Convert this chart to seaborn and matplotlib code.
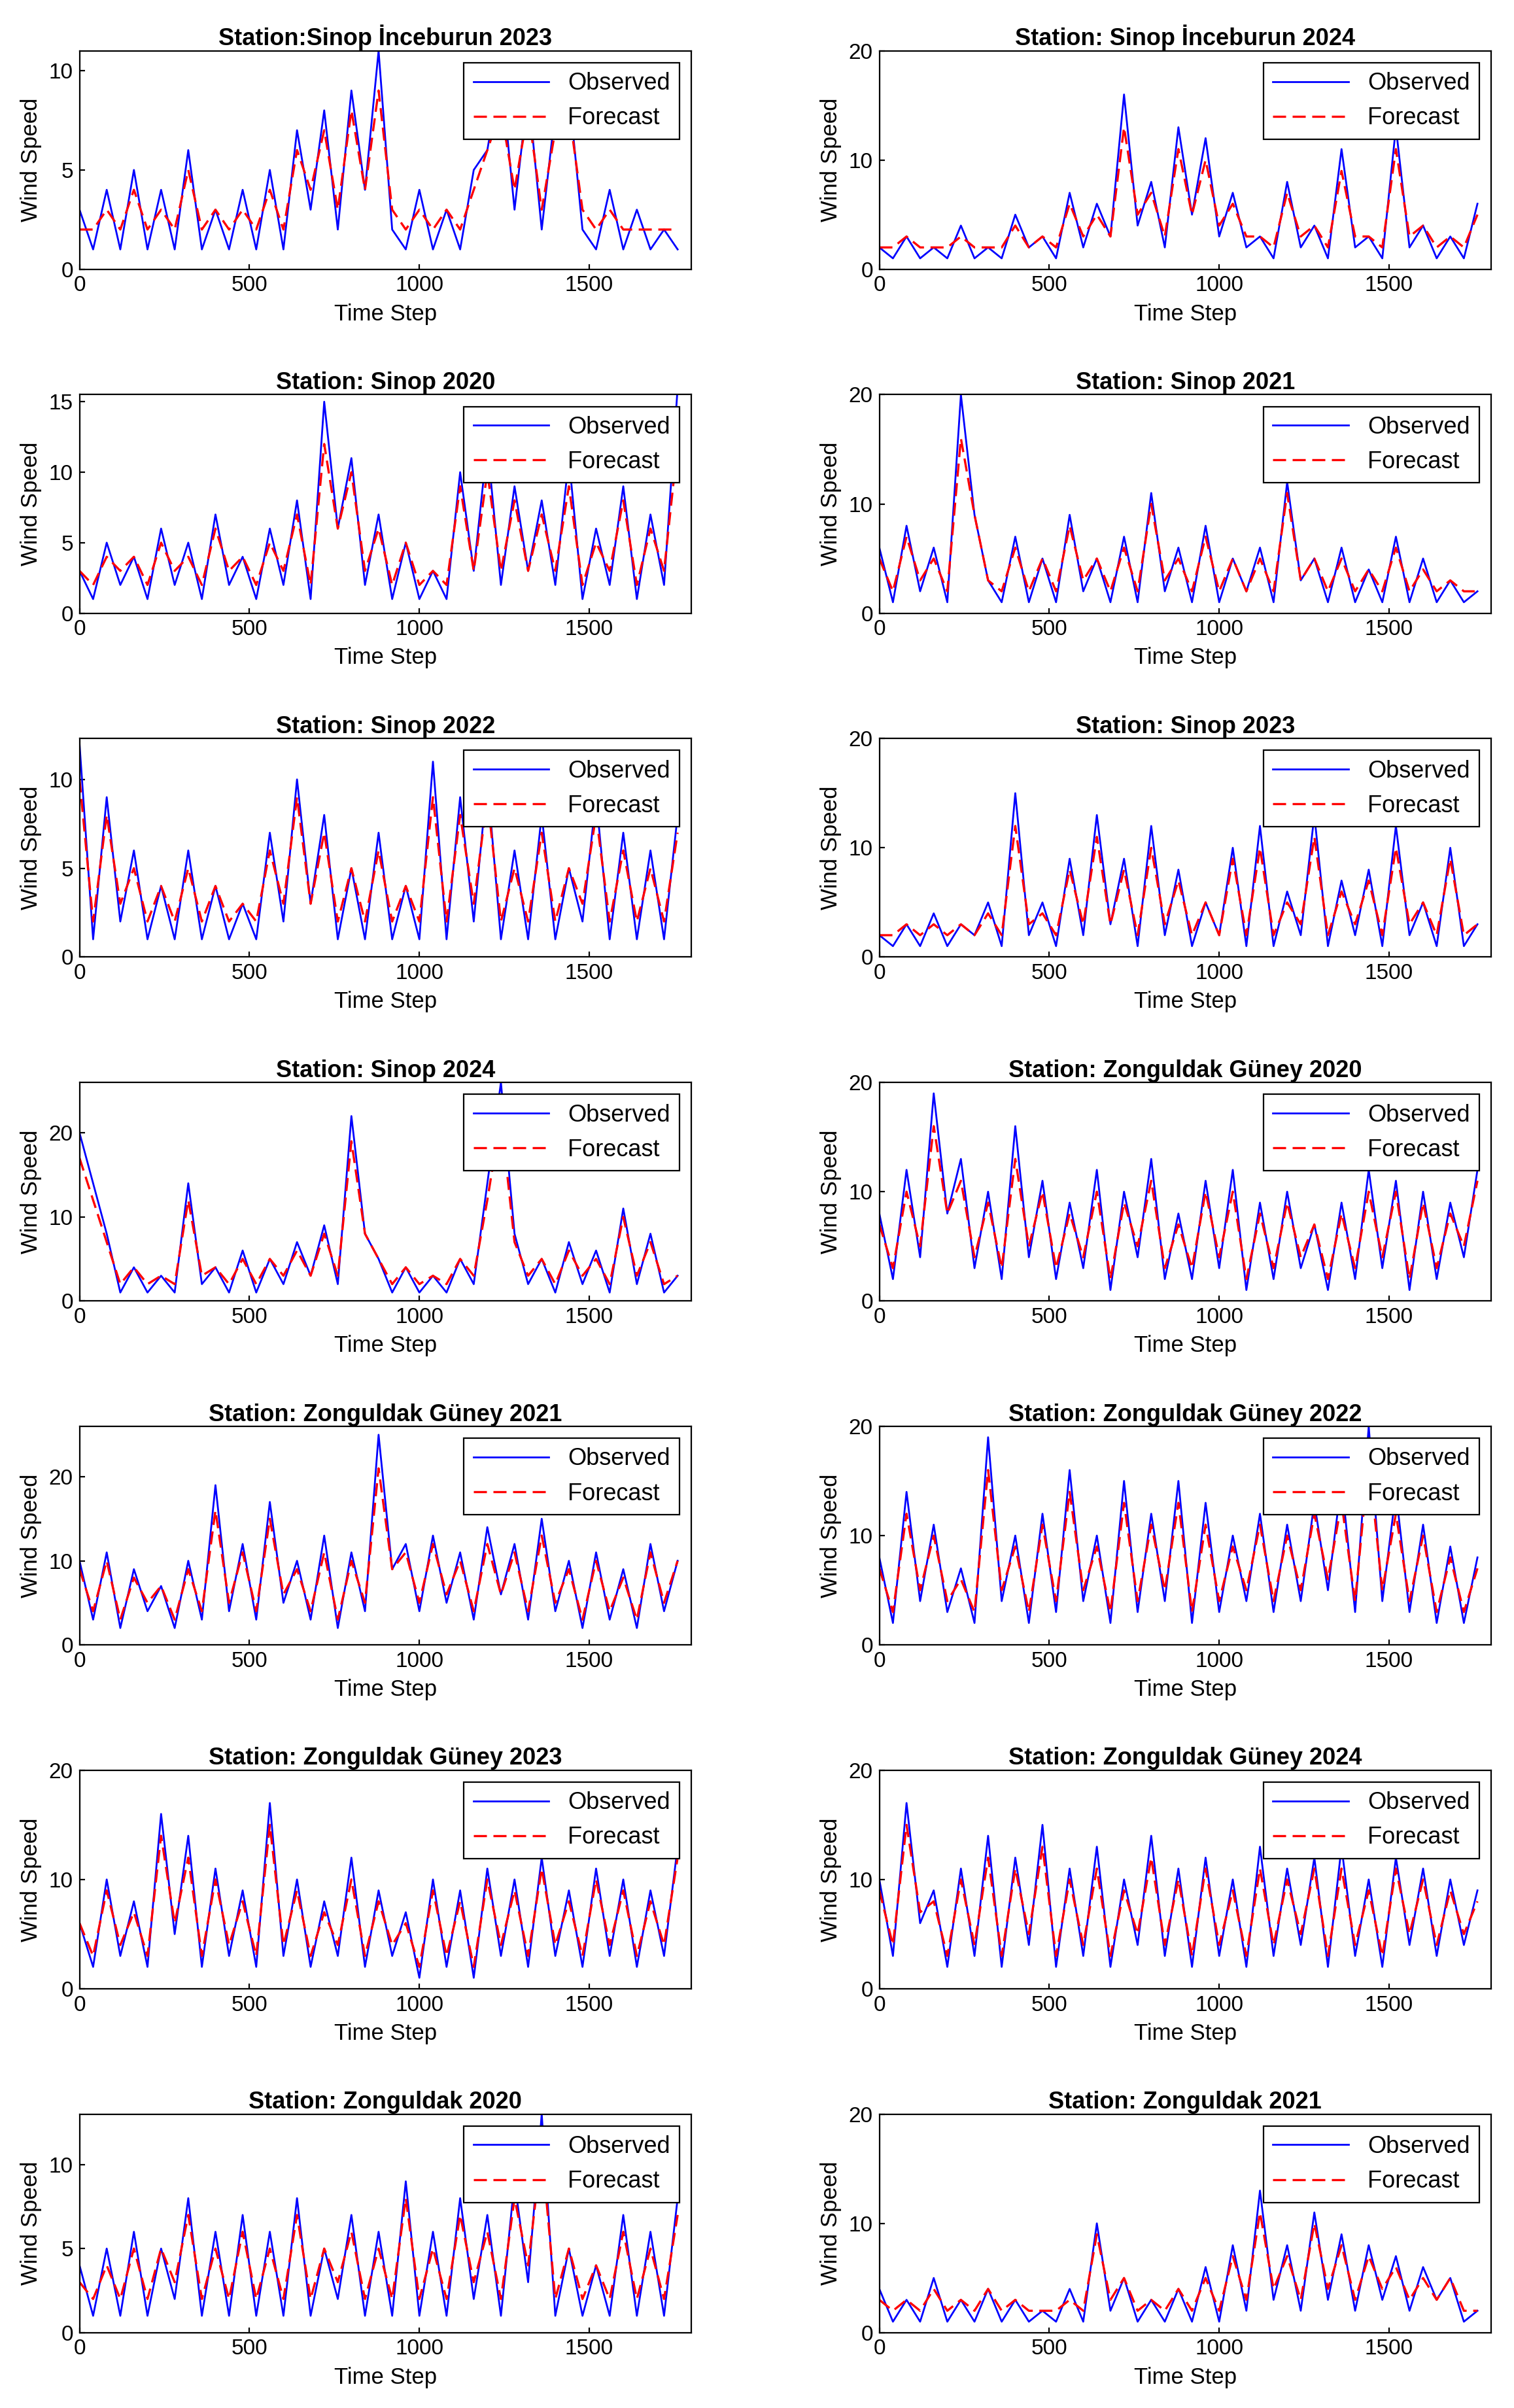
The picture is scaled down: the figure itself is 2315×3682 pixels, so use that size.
import numpy as np
import pandas as pd
import matplotlib
matplotlib.use("Agg")
import matplotlib.pyplot as plt
import seaborn as sns

plt.rcParams["font.family"] = "Liberation Sans"

titles = ["Station:Sinop İnceburun 2023", "Station: Sinop İnceburun 2024",
          "Station: Sinop 2020", "Station: Sinop 2021",
          "Station: Sinop 2022", "Station: Sinop 2023",
          "Station: Sinop 2024", "Station: Zonguldak Güney 2020",
          "Station: Zonguldak Güney 2021", "Station: Zonguldak Güney 2022",
          "Station: Zonguldak Güney 2023", "Station: Zonguldak Güney 2024",
          "Station: Zonguldak 2020", "Station: Zonguldak 2021"]
ymax = [11, 20, 15.5, 20, 12.3, 20, 26, 20, 26, 20, 20, 20, 13, 20]
yticks = [[0, 5, 10], [0, 10, 20], [0, 5, 10, 15], [0, 10, 20], [0, 5, 10], [0, 10, 20],
          [0, 10, 20], [0, 10, 20], [0, 10, 20], [0, 10, 20], [0, 10, 20], [0, 10, 20],
          [0, 5, 10], [0, 10, 20]]

observed = [
 [3,1,4,1,5,1,4,1,6,1,3,1,4,1,5,1,7,3,8,2,9,4,11,2,1,4,1,3,1,5,6,10,3,9,2,8,9,2,1,4,1,3,1,2,1],
 [2,1,3,1,2,1,4,1,2,1,5,2,3,1,7,2,6,3,16,4,8,2,13,5,12,3,7,2,3,1,8,2,4,1,11,2,3,1,13,2,4,1,3,1,6],
 [3,1,5,2,4,1,6,2,5,1,7,2,4,1,6,2,8,1,15,6,11,2,7,1,5,1,3,1,10,3,12,2,9,3,8,2,11,1,6,2,9,1,7,2,16],
 [6,1,8,2,6,1,20,9,3,1,7,1,5,1,9,2,5,1,7,1,11,2,6,1,8,1,5,2,6,1,12,3,5,1,6,1,4,1,7,1,5,1,3,1,2],
 [12,1,9,2,6,1,4,1,6,1,4,1,3,1,7,2,10,3,8,1,5,1,7,1,4,1,11,1,9,2,10,1,6,1,8,1,5,2,9,1,7,1,6,1,8],
 [2,1,3,1,4,1,3,2,5,1,15,2,5,1,9,2,13,3,9,1,12,2,8,1,5,2,10,1,12,1,6,2,13,1,7,2,8,1,12,2,5,1,10,1,3],
 [20,14,8,1,4,1,3,1,14,2,4,1,6,1,5,2,7,3,9,2,22,8,5,1,4,1,3,1,5,2,14,26,8,2,5,1,7,2,6,1,11,2,8,1,3],
 [8,2,12,4,19,8,13,3,10,2,16,4,11,2,9,3,12,1,10,4,13,2,8,2,11,3,12,1,9,2,10,3,7,1,9,2,12,3,11,1,10,2,9,4,12],
 [10,3,11,2,9,4,7,2,10,3,19,4,12,3,17,5,10,3,13,2,11,4,25,9,12,4,13,5,11,3,14,6,12,3,15,4,10,2,11,3,9,2,12,4,10],
 [8,2,14,4,11,3,7,2,19,4,10,2,12,3,16,4,10,2,15,3,12,4,15,2,13,3,10,4,12,3,11,4,13,5,15,3,20,4,14,3,11,2,9,2,8],
 [6,2,10,3,8,2,16,5,14,2,11,3,9,2,17,3,10,2,8,3,12,2,9,3,7,1,10,2,9,1,11,3,10,2,12,3,9,2,11,3,10,2,9,3,13],
 [10,3,17,6,9,2,11,3,14,2,12,4,15,2,11,3,13,2,10,4,14,3,11,2,12,3,10,2,13,3,11,4,12,2,13,3,10,2,12,4,11,3,10,4,9],
 [4,1,5,1,6,1,5,2,8,1,6,1,7,1,6,1,8,1,5,2,7,1,6,1,9,1,6,1,8,2,7,1,9,3,13,1,5,1,4,1,7,1,6,1,8],
 [4,1,3,1,5,1,3,1,4,1,3,1,2,1,4,1,10,2,5,1,3,1,4,1,6,1,8,2,13,3,8,2,11,3,9,2,8,3,7,2,6,3,5,1,2],
]
forecast = [
 [2,2,3,2,4,2,3,2,5,2,3,2,3,2,4,2,6,4,7,3,8,4,9,3,2,3,2,3,2,4,6,8,4,8,3,7,8,3,2,3,2,2,2,2,2],
 [2,2,3,2,2,2,3,2,2,2,4,2,3,2,6,3,5,3,13,5,7,3,11,5,10,4,6,3,3,2,7,3,4,2,9,3,3,2,11,3,4,2,3,2,5],
 [3,2,4,3,4,2,5,3,4,2,6,3,4,2,5,3,7,2,12,6,10,3,6,2,5,2,3,2,9,3,10,3,8,3,7,3,9,2,5,3,8,2,6,3,12],
 [5,2,7,3,5,2,16,9,3,2,6,2,5,2,8,3,5,2,6,2,10,3,5,2,7,2,5,2,5,2,11,3,5,2,5,2,4,2,6,2,4,2,3,2,2],
 [10,2,8,3,5,2,4,2,5,2,4,2,3,2,6,3,9,3,7,2,5,2,6,2,4,2,9,2,8,3,9,2,5,2,7,2,5,3,8,2,6,2,5,2,7],
 [2,2,3,2,3,2,3,2,4,2,12,3,4,2,8,3,11,3,8,2,10,3,7,2,5,2,9,2,10,2,5,3,11,2,6,3,7,2,10,3,5,2,9,2,3],
 [17,12,7,2,4,2,3,2,12,3,4,2,5,2,5,3,6,3,8,3,19,8,5,2,4,2,3,2,5,3,12,22,7,3,5,2,6,3,5,2,10,3,7,2,3],
 [7,3,10,5,16,8,11,4,9,3,13,5,10,3,8,4,10,2,9,5,11,3,7,3,10,4,10,2,8,3,9,4,7,2,8,3,10,4,10,2,9,3,8,5,11],
 [9,4,10,3,8,5,7,3,9,4,16,5,11,4,15,6,9,4,11,3,10,5,21,9,11,5,12,6,10,4,12,6,11,4,13,5,9,3,10,4,8,3,11,5,10],
 [7,3,12,5,10,4,6,3,16,5,9,3,11,4,14,5,9,3,13,4,11,5,13,3,11,4,9,5,11,4,10,5,12,6,13,4,17,5,12,4,10,3,8,3,7],
 [6,3,9,4,7,3,14,6,12,3,10,4,8,3,15,4,9,3,7,4,10,3,8,4,6,2,9,3,8,2,10,4,9,3,11,4,8,3,10,4,9,3,8,4,12],
 [9,4,15,7,8,3,10,4,12,3,11,5,13,3,10,4,11,3,9,5,12,4,10,3,11,4,9,3,11,4,10,5,11,3,11,4,9,3,11,5,10,4,9,5,8],
 [3,2,4,2,5,2,5,3,7,2,5,2,6,2,5,2,7,2,5,3,6,2,5,2,8,2,5,2,7,3,6,2,8,4,11,2,5,2,4,2,6,2,5,2,7],
 [3,2,3,2,4,2,3,2,4,2,3,2,2,2,3,2,9,3,5,2,3,2,4,2,5,2,7,3,11,4,7,3,10,4,8,3,7,4,6,3,5,3,5,2,2],
]

fig = plt.figure(figsize=(11.575, 18.41), dpi=200)
W, H = 990.0, 1565.0
for i in range(14):
    r, c = divmod(i, 2)
    left = 52 / W if c == 0 else 575 / W
    top = 33 + r * 223.5
    ax = fig.add_axes([left, 1 - (top + 142) / H, 400 / W, 142 / H])
    x = np.linspace(0, 1760, len(observed[i]))
    df = pd.DataFrame({"t": x, "obs": observed[i], "fc": forecast[i]})
    sns.lineplot(data=df, x="t", y="obs", ax=ax, color="#0000ff", lw=1.0, label="Observed")
    sns.lineplot(data=df, x="t", y="fc", ax=ax, color="#ff0000", lw=1.2, ls=(0, (6, 3)), label="Forecast")
    ax.set_xlim(0, 1800)
    ax.set_ylim(0, ymax[i])
    ax.set_xticks([0, 500, 1000, 1500])
    ax.set_yticks(yticks[i])
    ax.tick_params(labelsize=12, direction="in", length=3)
    ax.set_xlabel("Time Step", fontsize=12.5)
    ax.set_ylabel("Wind Speed", fontsize=12.5)
    ax.set_title(titles[i], fontsize=13, fontweight="bold", pad=3)
    leg = ax.legend(loc="upper right", fontsize=13, frameon=True, fancybox=False,
                    edgecolor="black", framealpha=1, handlelength=3.2, borderaxespad=0.5)
    leg.get_frame().set_linewidth(0.8)
fig.savefig("out.png", dpi=200)
